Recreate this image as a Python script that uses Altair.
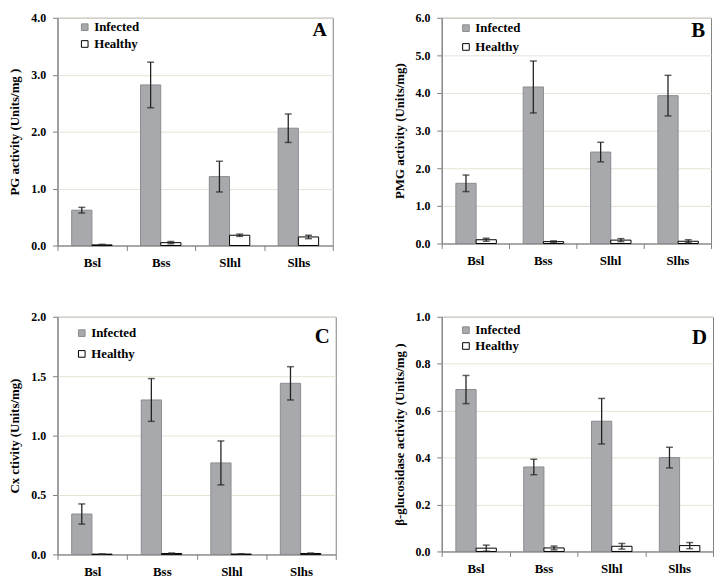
import altair as alt
import pandas as pd

cats = ["Bsl", "Bss", "Slhl", "Slhs"]
groups = ["Infected", "Healthy"]

# Panel A: PG activity
a_inf = [0.62, 2.82, 1.21, 2.06]
a_inf_err = [0.05, 0.40, 0.27, 0.25]
a_hea = [0.01, 0.05, 0.18, 0.15]
a_hea_err = [0.01, 0.02, 0.02, 0.03]

# Panel B: PMG activity
b_inf = [1.60, 4.16, 2.43, 3.93]
b_inf_err = [0.22, 0.69, 0.26, 0.54]
b_hea = [0.10, 0.05, 0.09, 0.06]
b_hea_err = [0.04, 0.02, 0.04, 0.04]

# Panel C: Cx activity
c_inf = [0.34, 1.30, 0.77, 1.44]
c_inf_err = [0.085, 0.18, 0.185, 0.14]
c_hea = [0.002, 0.008, 0.003, 0.008]
c_hea_err = [0.0, 0.004, 0.0, 0.004]

# Panel D: beta-glucosidase activity
d_inf = [0.69, 0.36, 0.555, 0.40]
d_inf_err = [0.06, 0.033, 0.097, 0.044]
d_hea = [0.014, 0.015, 0.022, 0.025]
d_hea_err = [0.013, 0.008, 0.012, 0.013]

FILL = ["#a7a9ac", "#ffffff"]
STROKE = ["#8a8c8f", "#000000"]
FONT = "Liberation Serif"


def panel(inf, inf_err, hea, hea_err, ymax, step, ytitle, letter, w, h,
          lsize, lx, ly, rp, ty, tpad):
    df = pd.DataFrame({
        "cat": cats * 2,
        "grp": ["Infected"] * 4 + ["Healthy"] * 4,
        "val": inf + hea,
        "err": inf_err + hea_err,
    })
    df["lo"] = df["val"] - df["err"]
    df["hi"] = df["val"] + df["err"]
    nticks = int(round(ymax / step))
    tickvals = [round(i * step, 3) for i in range(nticks + 1)]

    xaxis = alt.Axis(labelAngle=0, tickBand="extent", labelPadding=6,
                     tickSize=5, domainColor="#808080", tickColor="#808080",
                     labelFontSize=13, labelFontWeight="bold", labelFont=FONT,
                     labelColor="#000000", grid=False)
    xscale = alt.Scale(paddingInner=0, paddingOuter=0)
    yaxis = alt.Axis(values=tickvals, format=".1f", tickSize=5, labelOverlap=False,
                     domainColor="#808080", tickColor="#808080",
                     gridColor="#e6e2d6", labelFontSize=12, labelFont=FONT,
                     labelFontWeight="bold", titleFontSize=13, titleFont=FONT,
                     titleFontWeight="bold", titlePadding=tpad, labelPadding=7,
                     labelColor="#000000", titleColor="#000000")
    yscale = alt.Scale(domain=[0, ymax], nice=False, zero=True)

    def X():
        return alt.X("cat:N", sort=cats, title=None, scale=xscale, axis=xaxis)

    def XO():
        return alt.XOffset("grp:N", sort=groups,
                           scale=alt.Scale(domain=groups, paddingOuter=0.7, paddingInner=0))

    def Y(f):
        return alt.Y(f, title=ytitle, scale=yscale, axis=yaxis)

    leg = alt.Legend(title=None, orient="none", legendX=lx, legendY=ly,
                     symbolType="square", symbolSize=45, symbolStrokeWidth=1,
                     labelFontSize=13, labelFontWeight="bold", labelColor="#000000",
                     labelFont=FONT, rowPadding=rp, labelOffset=3, padding=0)
    base = alt.Chart(df)
    bars = base.mark_bar(strokeWidth=1).encode(
        x=X(), xOffset=XO(), y=Y("val:Q"),
        fill=alt.Fill("grp:N", sort=groups,
                      scale=alt.Scale(domain=groups, range=FILL), legend=leg),
        stroke=alt.Stroke("grp:N", sort=groups,
                          scale=alt.Scale(domain=groups, range=STROKE), legend=leg),
    )
    rules = base.mark_rule(color="#222222", strokeWidth=1.3).encode(
        x=X(), xOffset=XO(), y=Y("lo:Q"), y2="hi:Q")
    caps_lo = base.mark_tick(color="#222222", thickness=1.5, size=7, orient="horizontal").encode(
        x=X(), xOffset=XO(), y=Y("lo:Q"))
    caps_hi = base.mark_tick(color="#222222", thickness=1.5, size=7, orient="horizontal").encode(
        x=X(), xOffset=XO(), y=Y("hi:Q"))
    lab = alt.Chart(pd.DataFrame({"t": [letter]})).mark_text(
        font=FONT, fontSize=lsize, fontWeight="bold", align="right", baseline="top",
        color="#000000").encode(x=alt.value(w - 6), y=alt.value(ty), text="t:N")
    return alt.layer(bars, rules, caps_lo, caps_hi, lab).properties(width=w, height=h)


pA = panel(a_inf, a_inf_err, a_hea, a_hea_err, 4.0, 1.0, "PG activity (Units/mg )", "A",
           278, 230, 20, 21, 3, 3, 2, 9)
pB = panel(b_inf, b_inf_err, b_hea, b_hea_err, 6.0, 1.0, "PMG activity (Units/mg)", "B",
           272, 228, 21, 18, 4, 5, 2, 9)
pC = panel(c_inf, c_inf_err, c_hea, c_hea_err, 2.0, 0.5, "Cx ctivity (Units/mg)", "C",
           281, 240, 21, 18, 10, 7, 9, 9)
pD = panel(d_inf, d_inf_err, d_hea, d_hea_err, 1.0, 0.2, "β-glucosidase activity (Units/mg )", "D",
           274, 237, 21, 18, 7, 2, 10, 9)

chart = alt.concat(pA, pB, pC, pD, columns=2, spacing={"row": 40, "column": 56}).resolve_scale(
    fill="independent", stroke="independent", y="independent", x="independent"
).resolve_legend(fill="independent", stroke="independent").properties(
    padding={"left": 0, "top": 0, "right": 0, "bottom": 0}
).configure(font=FONT).configure_view(stroke="#808080", strokeWidth=1)

chart.save("out.html", embed_options={"renderer": "svg", "actions": False})
